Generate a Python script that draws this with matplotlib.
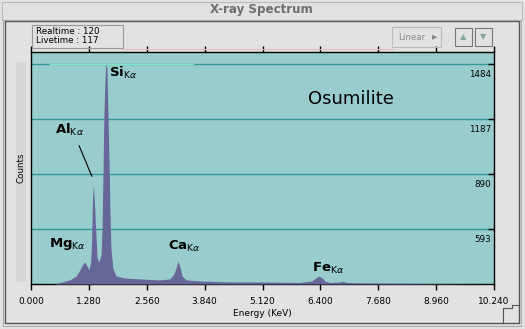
import matplotlib
matplotlib.use("Agg")
import matplotlib.pyplot as plt
from matplotlib.patches import Rectangle
from matplotlib.lines import Line2D

# spectrum (energy in keV, counts)
energy = [0.00, 0.53, 0.69, 0.86, 1.00, 1.08, 1.15, 1.19, 1.24, 1.28, 1.32, 1.34,
          1.36, 1.38, 1.41, 1.44, 1.46, 1.50, 1.55, 1.57, 1.59, 1.61, 1.64, 1.66,
          1.68, 1.70, 1.73, 1.75, 1.77, 1.81, 1.88, 2.08, 2.41, 2.85, 3.07, 3.16,
          3.21, 3.25, 3.30, 3.34, 3.43, 3.74, 4.40, 5.06, 5.95, 6.21, 6.30, 6.37,
          6.44, 6.50, 6.61, 6.83, 6.90, 6.97, 7.28, 8.16, 10.24]
counts = [297, 297, 308, 319, 340, 373, 405, 416, 394, 373, 416, 520,
          760, 835, 700, 540, 440, 416, 454, 589, 859, 1183, 1426, 1490,
          1453, 1237, 913, 643, 481, 383, 340, 329, 324, 319, 324, 351,
          383, 421, 383, 340, 319, 313, 308, 308, 305, 313, 329, 340,
          329, 313, 305, 308, 312, 305, 302, 300, 297]

x_ticks = [0.0, 1.28, 2.56, 3.84, 5.12, 6.40, 7.68, 8.96, 10.24]
y_grid = [593.6, 890.4, 1187.2, 1484.0]
y_labels = ["593", "890", "1187", "1484"]

# peak labels: element, energy, counts (label anchor)
peaks = [("Si", 1.72, 1415), ("Al", 0.53, 1107), ("Mg", 0.40, 497),
         ("Ca", 3.03, 481), ("Fe", 6.21, 362)]

W, H = 525, 329
fig = plt.figure(figsize=(W / 100, H / 100), dpi=100, facecolor="#e2e2e2")


def fx(px):
    return px / W


def fy(py):
    return 1 - py / H


def frame(x0, y0, x1, y1, color="#555555", lw=1.0, fc="none"):
    fig.add_artist(Rectangle((fx(x0), fy(y1)), fx(x1) - fx(x0), fy(y0) - fy(y1),
                             transform=fig.transFigure, fill=(fc != "none"),
                             facecolor=fc, edgecolor=color, lw=lw))


def hline(y, x0, x1, color, lw=1.0):
    fig.add_artist(Line2D([fx(x0), fx(x1)], [fy(y), fy(y)], transform=fig.transFigure,
                          color=color, lw=lw))


def vline(x, y0, y1, color, lw=1.0):
    fig.add_artist(Line2D([fx(x), fx(x)], [fy(y0), fy(y1)], transform=fig.transFigure,
                          color=color, lw=lw))


# window chrome
frame(2, 2, 522, 20, color="#bbbbbb", lw=0.8)
frame(5, 21, 519, 323, color="#555555", lw=1.0)
frame(3, 20, 521, 326, color="#aaaaaa", lw=0.8)
fig.text(fx(261), fy(10), "X-ray Spectrum", ha="center", va="center",
         fontsize=8.6, fontweight="bold", color="#6e6e6e")

# realtime box
frame(32, 25, 123, 48, color="#999999", lw=0.8)
fig.text(fx(36), fy(31.5), "Realtime : 120", ha="left", va="center", fontsize=6.3)
fig.text(fx(36), fy(40.5), "Livetime : 117", ha="left", va="center", fontsize=6.3)

# buttons
frame(392, 27, 441, 47, color="#bbbbbb", lw=0.8)
fig.text(fx(412), fy(37), "Linear", ha="center", va="center", fontsize=6.3, color="#888888")
fig.text(fx(435), fy(37.5), "\u25b6", ha="center", va="center", fontsize=5, color="#888888")
frame(455, 28, 472, 46, color="#777777", lw=0.8)
frame(475, 28, 492, 46, color="#777777", lw=0.8)
fig.text(fx(463.5), fy(37), "\u25b2", ha="center", va="center", fontsize=6, color="#88aa99")
fig.text(fx(483.5), fy(37), "\u25bc", ha="center", va="center", fontsize=6, color="#88aa99")
hline(48.5, 122, 392, "#e8b8c8", lw=0.8)

# resize grip
hline(305, 512, 519, "#555555", lw=0.8)
vline(512, 305, 308, "#555555", lw=0.8)
hline(308, 503, 512, "#555555", lw=0.8)
vline(503, 308, 323, "#555555", lw=0.8)

# scrollbar-like strip at the left
fig.add_artist(Rectangle((fx(16), fy(282)), fx(10), fy(62) - fy(282),
                         transform=fig.transFigure, facecolor="#d6d6d6", lw=0))

# plot area
ax = fig.add_axes([fx(31), fy(284), fx(494) - fx(31), fy(51.5) - fy(284)])
ax.set_facecolor("#99cccc")
ax.set_xlim(0, 10.24)
ax.set_ylim(296.8, 1552)

ax.set_yticks(y_grid)
ax.grid(axis="y", color="#339999", lw=1.0)
ax.axhline(1484, xmin=0.04, xmax=0.35, color="#7fe6c8", lw=1.0)

ax.fill_between(energy, 296.8, counts, color="#666699", lw=0, zorder=3)

ax.set_xticks(x_ticks)
ax.set_xticklabels([f"{v:.3f}" for v in x_ticks])
ax.tick_params(axis="x", direction="out", length=4.3, width=1, top=True,
               labelsize=6.5, pad=5)
ax.tick_params(axis="y", direction="in", length=4, width=1, left=False, right=True,
               labelleft=False)
for s in ax.spines.values():
    s.set_color("black")
    s.set_linewidth(1.0)

for v, lab in zip(y_grid, y_labels):
    ax.annotate(lab, xy=(1, v), xycoords=("axes fraction", "data"),
                xytext=(-3, -10), textcoords="offset pixels",
                ha="right", va="center", fontsize=6.3, zorder=4)

ax.set_xlabel("Energy (KeV)", fontsize=6.5, labelpad=2)
fig.text(fx(21), fy(168), "Counts", rotation=90, ha="center", va="center", fontsize=6.3)

for name, e, c in peaks:
    ax.text(e, c, r"$\mathbf{%s}_{\mathrm{K}\alpha}$" % name,
            fontsize=9.5, ha="left", va="baseline", zorder=5)

# leader line from the Al label to its peak
ax.annotate("", xy=(1.37, 864), xytext=(1.04, 1058),
            arrowprops=dict(arrowstyle="-", color="black", lw=0.8))

ax.text(6.13, 1269, "Osumilite", fontsize=13, ha="left", va="baseline", zorder=5)

fig.savefig("out.png", dpi=100, facecolor=fig.get_facecolor())
